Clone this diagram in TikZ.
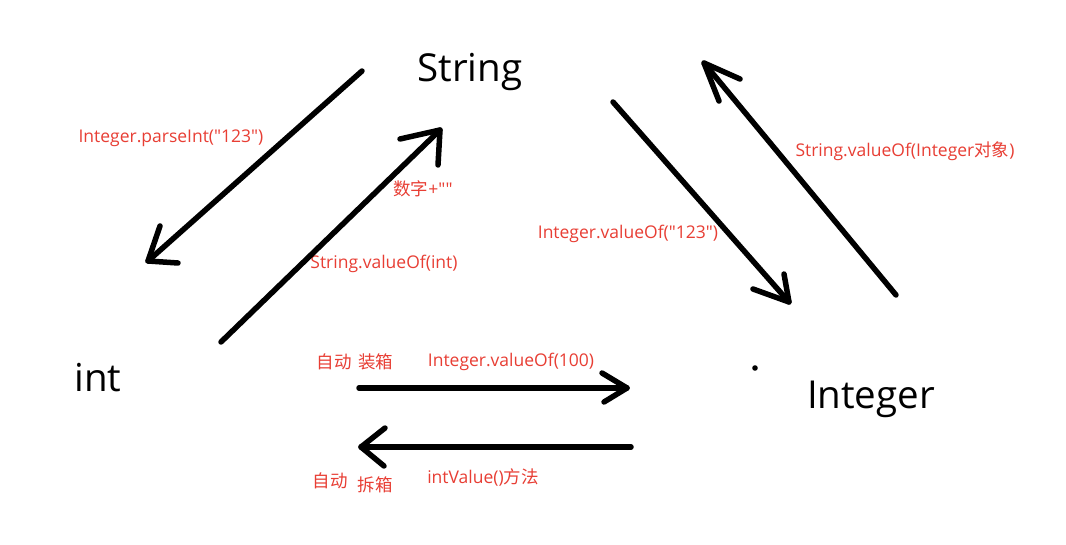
\documentclass[tikz,border=0pt]{standalone}
\usepackage{fontspec}
\setmainfont{Open Sans}[Ligatures=TeXOff]
\newfontfamily\cjk{Noto Sans CJK SC}
\begin{document}
\begin{tikzpicture}[x=1pt,y=-1pt]
\definecolor{lblred}{RGB}{232,62,52}
\tikzset{
  big/.style={font=\fontsize{38.5}{42}\selectfont, inner sep=0pt, text=black},
  lbl/.style={font=\fontsize{17.5}{20}\selectfont, inner sep=0pt, text=lblred},
  stroke/.style={line width=5.5pt, line cap=round, line join=round, black}
}
\useasboundingbox[fill=white] (0,0) rectangle (1066,545);
% main nodes
\node[big] (string) at (470,72) {String};
\node[big] (int) at (98,378) {int};
\node[big] (integer) at (871,399) {Integer};
% labels
\node[lbl] (l1) at (171,138) {Integer.parseInt("123")};
\node[lbl] (l2) at (423,189) {{\cjk 数字}+""};
\node[lbl] (l3) at (384,264) {String.valueOf(int)};
\node[lbl] (l4) at (628,234) {Integer.valueOf("123")};
\node[lbl] (l5) at (905,151) {String.valueOf(Integer{\cjk 对象})};
\node[lbl] (l6) at (355,362) {\cjk 自动\hspace{0.4em}装箱};
\node[lbl] (l7) at (511,362) {Integer.valueOf(100)};
\node[lbl] (l8) at (330,481) {\cjk 自动};
\node[lbl] (l9) at (375,485) {\cjk 拆箱};
\node[lbl] (l10) at (483,477) {intValue(){\cjk 方法}};
% connector coordinates
\coordinate (a1s) at (362,71);  \coordinate (a1t) at (148,261);
\coordinate (a1p) at (160,226); \coordinate (a1q) at (178,263);
\coordinate (a2s) at (221,342); \coordinate (a2t) at (440,130);
\coordinate (a2p) at (400,139); \coordinate (a2q) at (438,165);
\coordinate (a3s) at (613,102); \coordinate (a3t) at (789,302);
\coordinate (a3p) at (753,289); \coordinate (a3q) at (784,274);
\coordinate (a4s) at (896,295); \coordinate (a4t) at (704,63);
\coordinate (a4p) at (740,79);  \coordinate (a4q) at (719,101);
\coordinate (a5s) at (359,388); \coordinate (a5t) at (627,388);
\coordinate (a5p) at (602,373); \coordinate (a5q) at (604,402);
\coordinate (a6s) at (631,447); \coordinate (a6t) at (361,447);
\coordinate (a6p) at (385,428); \coordinate (a6q) at (384,466);
% connectors
\draw[stroke] (a1s) -- (a1t); \draw[stroke] (a1p) -- (a1t) -- (a1q);
\draw[stroke] (a2s) -- (a2t); \draw[stroke] (a2p) -- (a2t) -- (a2q);
\draw[stroke] (a3s) -- (a3t); \draw[stroke] (a3p) -- (a3t) -- (a3q);
\draw[stroke] (a4s) -- (a4t); \draw[stroke] (a4p) -- (a4t) -- (a4q);
\draw[stroke] (a5s) -- (a5t); \draw[stroke] (a5p) -- (a5t) -- (a5q);
\draw[stroke] (a6s) -- (a6t); \draw[stroke] (a6p) -- (a6t) -- (a6q);
% dot
\coordinate (dot) at (755,368);
\fill[black] (dot) circle (2.8);
\end{tikzpicture}
\end{document}
